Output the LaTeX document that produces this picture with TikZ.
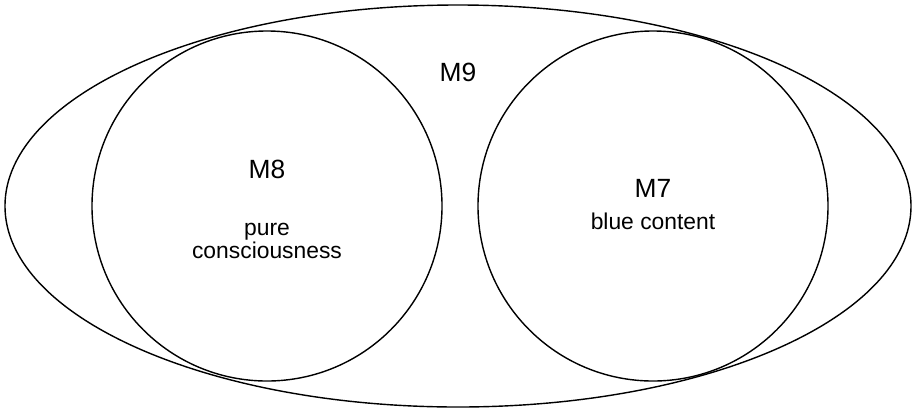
\documentclass[tikz,border=0pt]{standalone}
\usepackage{fontspec}
\setmainfont{Liberation Sans}
\usetikzlibrary{shapes.geometric}

\tikzset{
    setline/.style={draw, line width=1.2pt, inner sep=0pt},
    biglabel/.style={font=\fontsize{22.5}{24}\selectfont},
    smalllabel/.style={font=\fontsize{19.5}{15.5}\selectfont, align=center},
}

\begin{document}
\begin{tikzpicture}[x=0.03cm, y=-0.03cm]
    \useasboundingbox (0,0) rectangle (913,410);

    \node[setline, ellipse, minimum width=27.18cm, minimum height=12.06cm] (m9) at (458,206) {};
    \node[setline, circle, minimum size=10.5cm] (m8) at (267,206) {};
    \node[setline, circle, minimum size=10.5cm] (m7) at (653,206) {};

    \node[biglabel] (m9name) at (458,72) {M9};
    \node[biglabel] (m8name) at (267,169) {M8};
    \node[smalllabel] (m8text) at (267,241) {pure\\consciousness};
    \node[biglabel] (m7name) at (653,188) {M7};
    \node[smalllabel] (m7text) at (653,221) {blue content};
\end{tikzpicture}
\end{document}
